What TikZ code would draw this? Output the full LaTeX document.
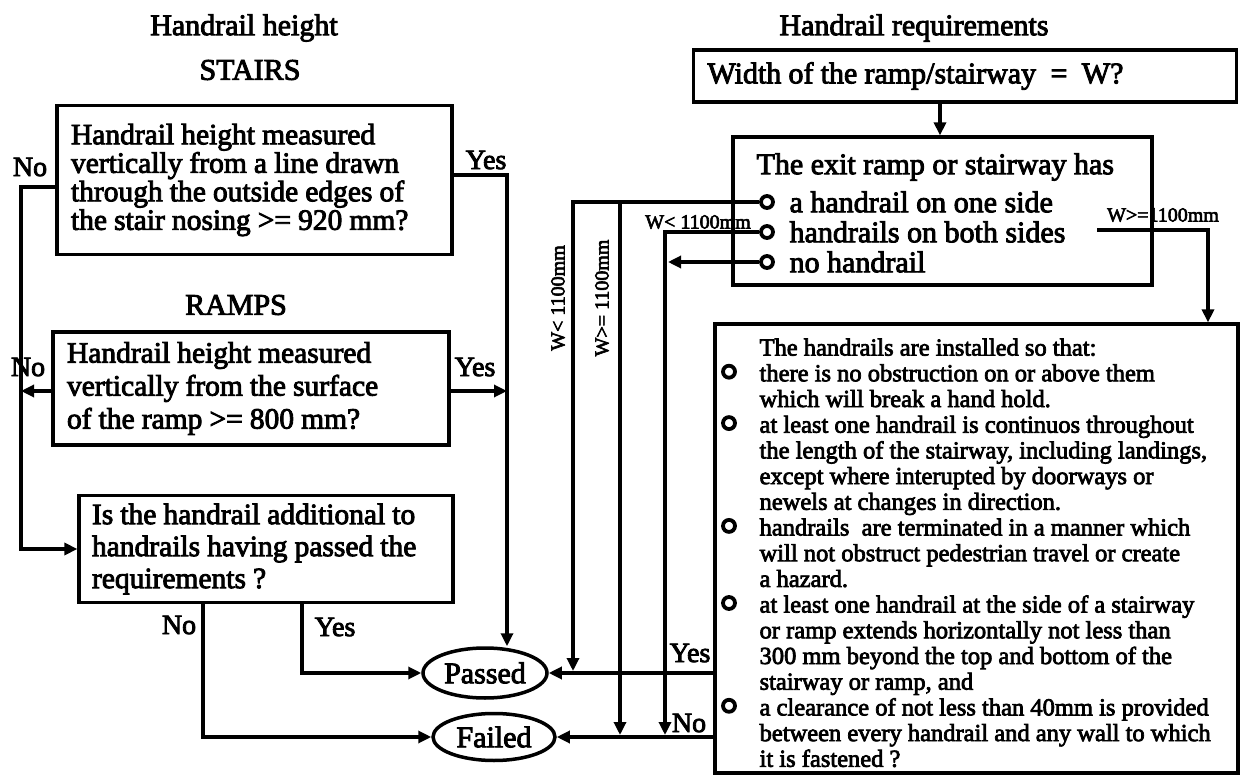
\documentclass[tikz,border=0pt]{standalone}
\usepackage{fontspec}
\setmainfont{Liberation Serif}[BoldFont=Liberation Serif, BoldFeatures={FakeBold=3}]
\usetikzlibrary{positioning,arrows.meta,shapes.geometric}

\tikzset{
  qbox/.style={draw, line width=3.2pt, align=left, inner xsep=14pt, inner ysep=0pt,
    execute at begin node={\spaceskip=0.24em plus 0.1em\relax}},
  endnode/.style={draw, ellipse, line width=3.5pt, inner sep=0pt, minimum width=124pt, minimum height=50pt},
  tick/.style={draw, circle, line width=3.8pt, inner sep=0pt, minimum size=12pt},
  lbl/.style={font=\bfseries\fontsize{28}{28}\selectfont, inner sep=0pt},
  wlbl/.style={font=\bfseries\fontsize{20}{20}\selectfont, inner sep=0pt},
}

\begin{document}
\begin{tikzpicture}[x=1pt, y=-1pt, line width=3.2pt, >={Triangle[length=13pt,width=12pt]}, font=\bfseries\fontsize{30}{30}\selectfont]
\useasboundingbox (0,0) rectangle (1240,775);

% height checks
\node (hh) at (244,28) {Handrail height};
\node (st) at (250,70) {STAIRS};
\node[qbox, text width=367pt, minimum height=149pt, font=\bfseries\fontsize{29.5}{28.5}\selectfont] (stairs) at (254.5,180) {Handrail height measured\\ vertically from a line drawn\\ through the outside edges of\\ the stair nosing\ >= 920 mm?};
\node (rp) at (236,305) {RAMPS};
\node[qbox, text width=368pt, minimum height=113pt, font=\bfseries\fontsize{29.5}{33}\selectfont] (ramps) at (251,388.5) {Handrail height measured\\ vertically from the surface\\ of the ramp >= 800 mm?};
\node[qbox, text width=348pt, inner xsep=13pt, minimum height=107pt, font=\bfseries\fontsize{29.5}{32}\selectfont] (extra) at (266,549) {Is the handrail additional to\\ handrails having passed the\\ requirements ?};

\node[endnode] (passed) at (485,673) {Passed};
\node[endnode, minimum width=122pt, minimum height=47pt] (failed) at (494,737) {Failed};

% requirements
\node (hr) at (914,28) {Handrail requirements};
\node[qbox, text width=515pt, minimum height=52pt] (width) at (965,76) {Width of the ramp/stairway\ \ =\ \ W?};
\node[qbox, minimum width=419pt, minimum height=148pt] (exits) at (942.5,211) {};
\node[anchor=west, inner sep=0pt] (has) at (755,167) {The exit ramp or stairway has};
\foreach \y/\t [count=\i] in {202/a handrail on one side, 232/handrails on both sides, 262/no handrail} {
  \node[tick] (o\i) at (767,\y) {};
  \node[anchor=west, inner sep=0pt] (t\i) at (788,\y) {\t};
}

\node[qbox, minimum width=523pt, minimum height=449pt] (req) at (976.5,548.5) {};
\node[anchor=north west, align=left, inner sep=0pt, font=\bfseries\fontsize{24.5}{25.7}\selectfont] (reqtext) at (758,337) {The handrails are installed so that:\\
there is no obstruction on or above them\\
which will break a hand hold.\\
at least one handrail is continuos throughout\\
the length of the stairway, including landings,\\
except where interupted by doorways or\\
newels at changes in direction.\\
handrails\ \ are terminated in a manner which\\
will not obstruct pedestrian travel or create\\
a hazard.\\
at least one handrail at the side of a stairway\\
or ramp extends horizontally not less than\\
300 mm beyond the top and bottom of the\\
stairway or ramp, and\\
a clearance of not less than 40mm is provided\\
between every handrail and any wall to which\\
it is fastened ?};
\foreach \k in {1,3,7,10,14}
  \node[tick] (b\k) at (729,{346+25.7*\k}) {};

% labels
\node[lbl] (nos) at (30,167) {No};
\node[lbl] (yess) at (486,160) {Yes};
\node[lbl] (nor) at (28,367) {No};
\node[lbl] (yesr) at (475,367) {Yes};
\node[lbl] (noe) at (179,625) {No};
\node[lbl] (yese) at (335,627) {Yes};
\node[lbl] (yesq) at (690,653) {Yes};
\node[lbl] (noq) at (689,723) {No};
\node[wlbl] (wlo) at (698,222) {W< 1100mm};
\node[wlbl] (whi) at (1163,215) {W>=1100mm};
\node[wlbl, rotate=90] (wlo2) at (558,298) {W< 1100mm};
\node[wlbl, rotate=90] (whi2) at (602,298) {W>= 1100mm};

% left side connectors
\coordinate (nl) at (21,187);
\coordinate (sy) at (507,175);
\coordinate (rn) at (53,391);
\coordinate (ry) at (449,391);
\draw[->] ([yshift=-7pt]stairs.west) -- (nl) |- (extra.west);
\draw[->] (rn) -- (rn -| nl);
\draw[->] (stairs.east |- sy) -- (sy) -- (sy |- passed.north);
\draw[->] (ry) -- (ry -| sy);
\draw[->] ([xshift=-63pt]extra.south) |- (failed);
\draw[->] ([xshift=36pt]extra.south) |- (passed);

% right side connectors
\coordinate (va) at (573,671);
\coordinate (jb) at (620,202);
\coordinate (vb) at (620,735);
\coordinate (vc) at (665,735);
\coordinate (vd) at (668,262);
\coordinate (wg) at (1097,230);
\coordinate (wh) at (1208,230);
\draw[->] ([xshift=-25pt]width.south) -- ([xshift=-2.5pt]exits.north);
\draw[->] (o1) -| (va);
\draw[->] (jb) -- (vb);
\draw[->] (o2) -| (vc);
\draw[->] (o3) -- (vd);
\draw[->] (wg) -- (wh) -- (wh |- req.north);
\draw[->] (req.west |- passed) -- (passed);
\draw[->] (req.west |- failed) -- (failed);
\end{tikzpicture}
\end{document}
